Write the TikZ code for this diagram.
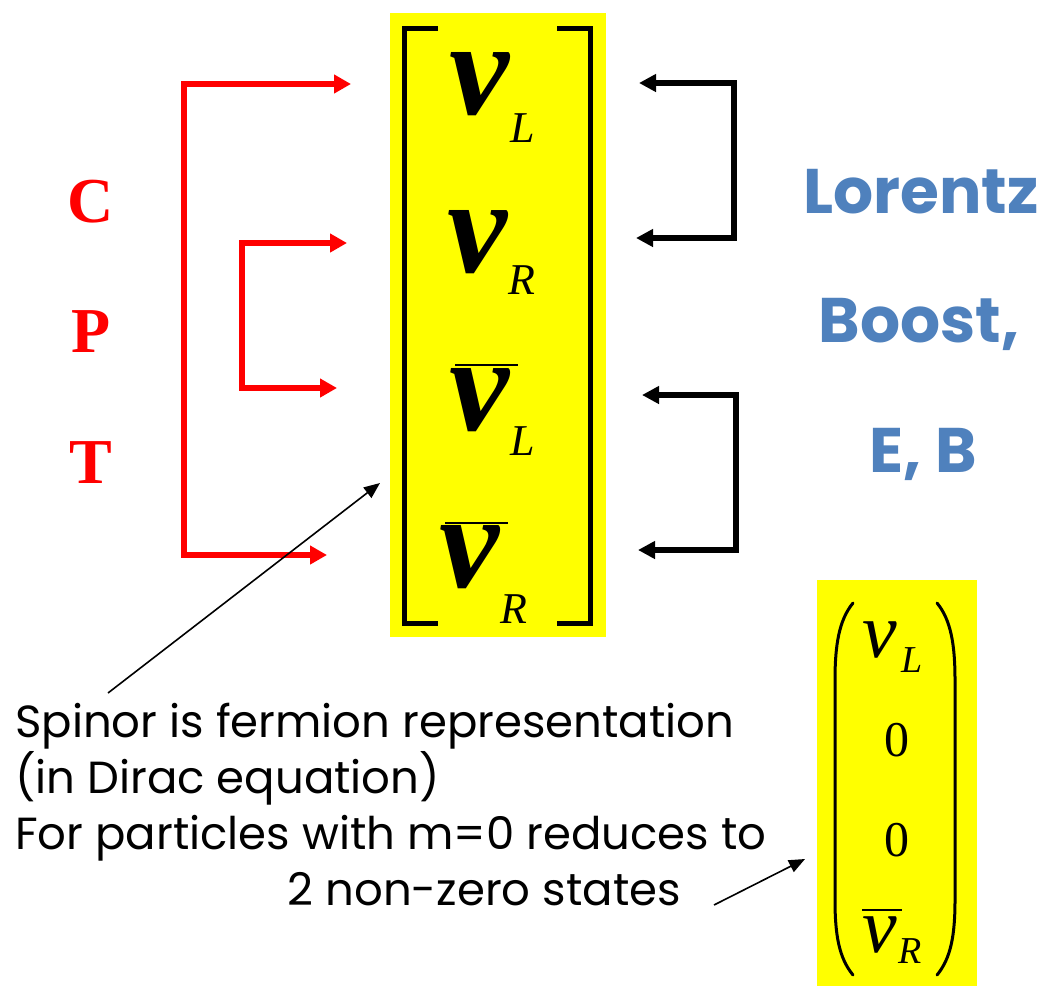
\documentclass[tikz,border=0pt]{standalone}
\usepackage{fontspec}
\setmainfont{Liberation Serif}
\newfontfamily\handfont{Poppins}
\usetikzlibrary{arrows.meta}
\definecolor{lblue}{HTML}{4F81BD}
\definecolor{hiyellow}{HTML}{FFFF00}
\tikzset{
  redarr/.style={draw=red, line width=6.5pt, line join=miter, {Triangle[length=17pt,width=18pt]}-{Triangle[length=17pt,width=18pt]}},
  blkarr/.style={draw=black, line width=6pt, line join=miter, {Triangle[length=17pt,width=17pt]}-{Triangle[length=17pt,width=17pt]}},
  thinarr/.style={draw=black, line width=1.6pt, -{Triangle[length=16pt,width=13pt]}},
  cpt/.style={text=red, inner sep=0pt, font=\fontsize{64}{70}\selectfont\bfseries},
  lor/.style={text=lblue, inner sep=0pt, anchor=base, font=\handfont\fontsize{63}{68}\selectfont\bfseries},
  body/.style={inner sep=0pt, font=\handfont\fontsize{45}{50}\selectfont},
  bignu/.style={inner sep=0pt, font=\fontsize{135}{140}\selectfont\bfseries\itshape},
  bigsub/.style={inner sep=0pt, font=\fontsize{44}{48}\selectfont\itshape},
  smnu/.style={inner sep=0pt, font=\fontsize{78}{84}\selectfont\itshape},
  smsub/.style={inner sep=0pt, font=\fontsize{38}{42}\selectfont\itshape},
  zero/.style={inner sep=0pt, font=\fontsize{50}{56}\selectfont},
  bracket/.style={line width=5pt, line join=miter},
  paren/.style={line width=3pt, line cap=round},
  nubar/.style={line width=2.6pt},
}
\begin{document}
\begin{tikzpicture}[x=1pt,y=-1pt]
\useasboundingbox (0,0) rectangle (1043,986);
% yellow backgrounds
\fill[hiyellow] (390,13) rectangle (606,637);
\fill[hiyellow] (817,580) rectangle (977,986);
% big brackets
\draw[bracket] (438,28) -- (404,28) -- (404,623) -- (438,623);
\draw[bracket] (557,28) -- (590,28) -- (590,623) -- (557,623);
% big matrix entries
\node[bignu] (nuL) at (479,84) {ν};
\node[bigsub] (subL1) at (523,128) {L};
\node[bignu] (nuR) at (477,242) {ν};
\node[bigsub] (subR1) at (522,280) {R};
\node[bignu] (nubL) at (479,400) {ν};
\node[bigsub] (subL2) at (523,441) {L};
\node[bignu] (nubR) at (469,557) {ν};
\node[bigsub] (subR2) at (514,609) {R};
\draw[nubar] (455,365) -- (518,365);
\draw[nubar] (445,523) -- (508,523);
% CPT
\node[cpt] (C) at (91,202) {C};
\node[cpt] (P) at (91,332) {P};
\node[cpt] (T) at (91,463) {T};
% Lorentz
\node[lor] (lor1) at (921,213) {Lorentz};
\node[lor] (lor2) at (919,342) {Boost,};
\node[lor] (lor3) at (923,472) {E, B};
% red connectors
\coordinate (r1) at (351,84);
\coordinate (r4) at (327,555);
\coordinate (r2) at (347,243);
\coordinate (r3) at (337,388);
\coordinate (rv1) at (184,555);
\coordinate (rv2) at (242,388);
\draw[redarr] (r1) -| (rv1) |- (r4);
\draw[redarr] (r2) -| (rv2) |- (r3);
% black connectors
\coordinate (b1) at (639,83);
\coordinate (b2) at (636,238);
\coordinate (bv1) at (734,238);
\coordinate (b3) at (642,395);
\coordinate (b4) at (638,550);
\coordinate (bv2) at (736,550);
\draw[blkarr] (b1) -| (bv1) |- (b2);
\draw[blkarr] (b3) -| (bv2) |- (b4);
% body text
\node[body, anchor=base west] (t1) at (15,737) {Spinor is fermion representation};
\node[body, anchor=base west] (t2) at (15,793) {(in Dirac equation)};
\node[body, anchor=base west] (t3) at (15,849) {For particles with m=0 reduces to};
\node[body, anchor=base east] (t4) at (681,905) {2 non-zero states};
% small matrix
\draw[paren] (853,603) .. controls (839,620) and (835,645) .. (835,680) -- (835,900) .. controls (835,935) and (839,958) .. (853,975);
\draw[paren] (937,603) .. controls (951,620) and (955,645) .. (955,680) -- (955,900) .. controls (955,935) and (951,958) .. (937,975);
\node[smnu] (snuL) at (880,640) {ν};
\node[smsub] (ssubL) at (912,660) {L};
\node[zero] (z1) at (897,740) {0};
\node[zero] (z2) at (897,840) {0};
\node[smnu] (snubR) at (880,935) {ν};
\node[smsub] (ssubR) at (910,951) {R};
\draw[nubar] (862,910) -- (902,910);
% thin arrows
\coordinate (a1s) at (108,693);
\coordinate (a1e) at (380,483);
\coordinate (a2s) at (714,905);
\coordinate (a2e) at (805,859);
\draw[thinarr] (a1s) -- (a1e);
\draw[thinarr] (a2s) -- (a2e);
\end{tikzpicture}
\end{document}
